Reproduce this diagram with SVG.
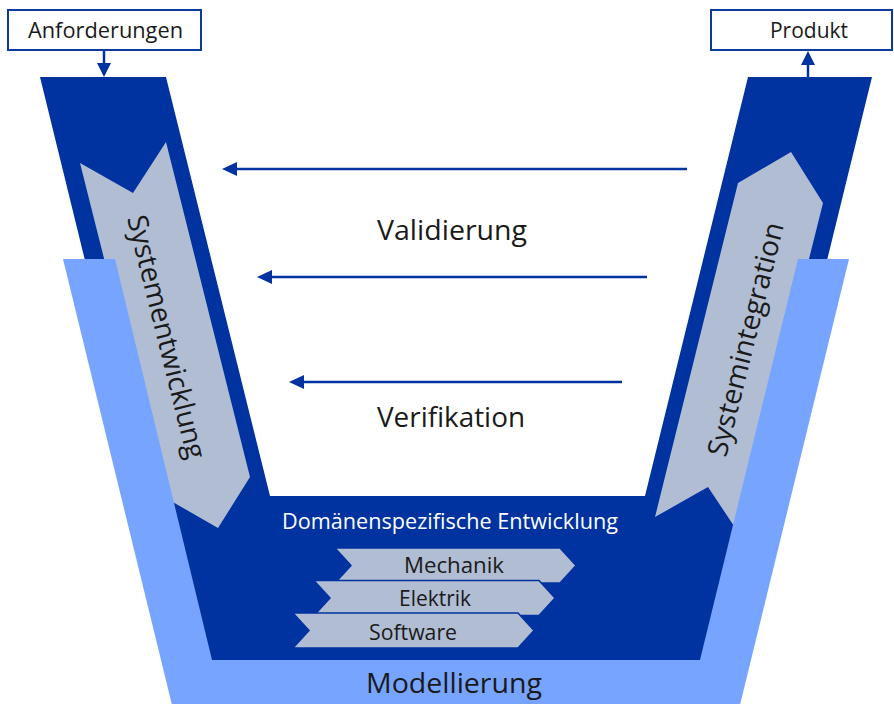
<svg xmlns="http://www.w3.org/2000/svg" width="894" height="704" viewBox="0 0 894 704">
  <defs>
    <style>
      .dark { fill: #0033a0; }
      .light { fill: #76a4ff; }
      .gray { fill: #b0bdd3; }
      .chev { fill: #b0bdd3; stroke: #0033a0; stroke-width: 1.5; }
      .box { fill: #ffffff; stroke: #0d3aa0; stroke-width: 2; }
      .t { font-family: "Open Sans", "Noto Sans", "Liberation Sans", sans-serif; fill: #1a1a1a; }
      .big { font-size: 28px; }
      .mid { font-size: 21px; }
      .white { fill: #ffffff; }
      .conn { stroke: #0033a0; stroke-width: 2.5; fill: none; }
      .head { fill: #0033a0; }
    </style>
    <path id="chevron" d="M0,0 H225 L241,17.5 L225,35 H0 L16,17.5 Z"/>
  </defs>

  <rect width="894" height="704" fill="#ffffff"/>

  <g id="v-body">
    <polygon class="dark" points="40,77 166,77 270,496 645,496 748,77 872,77 729,660 183,660"/>
  </g>

  <g id="systementwicklung">
    <polygon class="gray" points="80,163 133,193 166,142 250,477 218,528 164,497"/>
  </g>

  <g id="systemintegration">
    <polygon class="gray" points="738,183 791,152 823,203 740,535 708,487 655,517"/>
  </g>

  <g id="modellierung">
    <polygon class="light" points="63,259 115,259 212,660 700,660 798,259 849,259 740,705 172,705"/>
    <text class="t big" x="454" y="693" text-anchor="middle" textLength="176" lengthAdjust="spacingAndGlyphs">Modellierung</text>
  </g>

  <g id="systementwicklung-label">
    <text class="t big" transform="translate(127,218) rotate(76)" x="0" y="0" textLength="250" lengthAdjust="spacingAndGlyphs">Systementwicklung</text>
  </g>

  <g id="systemintegration-label">
    <text class="t big" transform="translate(726,458) rotate(-76)" x="0" y="0" textLength="240" lengthAdjust="spacingAndGlyphs">Systemintegration</text>
  </g>

  <g id="domaenen">
    <text class="t mid white" x="450" y="529" text-anchor="middle" textLength="336" lengthAdjust="spacingAndGlyphs">Domänenspezifische Entwicklung</text>
  </g>

  <g id="mechanik">
    <use href="#chevron" class="chev" x="335" y="548"/>
    <text class="t mid" x="454" y="573" text-anchor="middle" textLength="100" lengthAdjust="spacingAndGlyphs">Mechanik</text>
  </g>

  <g id="elektrik">
    <use href="#chevron" class="chev" x="314" y="580.5"/>
    <text class="t mid" x="435" y="606" text-anchor="middle" textLength="72" lengthAdjust="spacingAndGlyphs">Elektrik</text>
  </g>

  <g id="software">
    <use href="#chevron" class="chev" x="293" y="613"/>
    <text class="t mid" x="413" y="640" text-anchor="middle" textLength="88" lengthAdjust="spacingAndGlyphs">Software</text>
  </g>

  <g id="anforderungen">
    <rect class="box" x="8" y="10" width="193" height="40"/>
    <text class="t mid" x="105.5" y="38" text-anchor="middle" textLength="155" lengthAdjust="spacingAndGlyphs">Anforderungen</text>
  </g>

  <g id="produkt">
    <rect class="box" x="711" y="10" width="181" height="40"/>
    <text class="t mid" x="809" y="38" text-anchor="middle" textLength="78" lengthAdjust="spacingAndGlyphs">Produkt</text>
  </g>

  <g id="validierung">
    <text class="t big" x="452" y="240" text-anchor="middle" textLength="150" lengthAdjust="spacingAndGlyphs">Validierung</text>
  </g>

  <g id="verifikation">
    <text class="t big" x="451" y="427" text-anchor="middle" textLength="148" lengthAdjust="spacingAndGlyphs">Verifikation</text>
  </g>

  <g id="connectors">
    <line class="conn" x1="104" y1="50" x2="104" y2="64"/>
    <polygon class="head" points="97,63 111,63 104,77"/>

    <line class="conn" x1="808" y1="77" x2="808" y2="63"/>
    <polygon class="head" points="801,65 815,65 808,51"/>

    <line class="conn" x1="687" y1="169" x2="235" y2="169"/>
    <polygon class="head" points="237,162 237,176 222,169"/>

    <line class="conn" x1="647" y1="277" x2="270" y2="277"/>
    <polygon class="head" points="272,270 272,284 257,277"/>

    <line class="conn" x1="622" y1="382" x2="302" y2="382"/>
    <polygon class="head" points="304,375 304,389 289,382"/>
  </g>
</svg>
